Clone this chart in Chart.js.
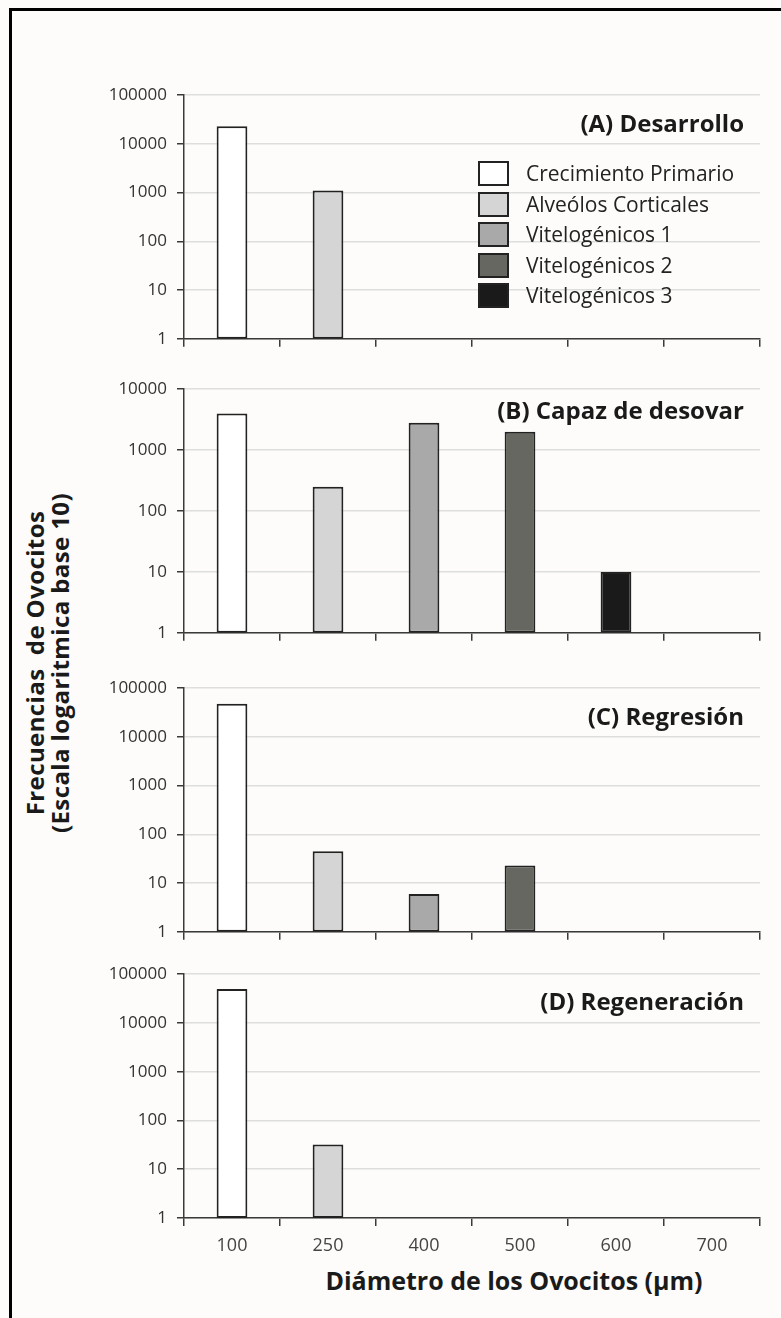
<!DOCTYPE html>
<html>
<head>
<meta charset="utf-8">
<script src="https://cdn.jsdelivr.net/npm/chart.js@4.4.1/dist/chart.umd.min.js"></script>
<style>
html,body{margin:0;padding:0;background:#fdfcfa;}
body{width:781px;height:1318px;position:relative;overflow:hidden;font-family:"Open Sans",sans-serif;}
#marco{position:absolute;left:9px;top:8px;width:900px;height:1400px;border-left:3px solid #000;border-top:3px solid #000;}
canvas{position:absolute;}
.titulo{position:absolute;right:37px;height:30px;line-height:30px;font-weight:700;font-size:24px;color:#1a1a1a;white-space:nowrap;}
.ley{position:absolute;left:478px;height:25px;white-space:nowrap;}
.ley span.caja{position:absolute;left:0;top:0;width:27px;height:21px;border:2px solid #222;}
.ley span.txt{position:absolute;left:48px;top:-3px;font-size:21px;line-height:30px;color:#222;}
#ytitulo{position:absolute;left:-153px;top:638px;width:400px;height:50px;line-height:25px;text-align:center;
  transform:rotate(-90deg);font-weight:700;font-size:24px;letter-spacing:0.4px;color:#1a1a1a;white-space:pre;}
#xtitulo{position:absolute;left:214px;width:600px;top:1263px;text-align:center;font-weight:700;font-size:25px;color:#1a1a1a;}
</style>
</head>
<body>
<div id="marco"></div>
<div id="ytitulo">Frecuencias  de Ovocitos
(Escala logaritmica base 10)</div>
<div id="xtitulo">Diámetro de los Ovocitos (µm)</div>
<script>
// datos
var categorias = ["100", "250", "400", "500", "600", "700"];
var series = ["Crecimiento Primario", "Alveólos Corticales", "Vitelogénicos 1", "Vitelogénicos 2", "Vitelogénicos 3"];
var colores = ["#ffffff", "#d5d5d5", "#a9a9a9", "#676762", "#1a1a1a"];

var desarrollo   = [23000, 1100, null, null, null, null];
var capaz        = [4000, 250, 2800, 2000, 10, null];
var regresion    = [48000, 45, 6, 23, null, null];
var regeneracion = [50000, 32, null, null, null, null];

var ticks5 = [1, 10, 100, 1000, 10000, 100000];
var ticks4 = [1, 10, 100, 1000, 10000];

var paneles = [
  {datos: desarrollo,   titulo: "(A) Desarrollo",       ticks: ticks5, top: 95,  tituloY: 123},
  {datos: capaz,        titulo: "(B) Capaz de desovar", ticks: ticks4, top: 389, tituloY: 410},
  {datos: regresion,    titulo: "(C) Regresión",        ticks: ticks5, top: 688, tituloY: 716},
  {datos: regeneracion, titulo: "(D) Regeneración",     ticks: ticks5, top: 974, tituloY: 1001}
];
var altoPanel = 244;
var eje = "#3a3a3a";

function configurar(p, ultimo, altoX){
  // una serie por tipo de ovocito, cada una en su categoria
  var ds = series.map(function(s, i){
    return {
      label: s,
      data: p.datos.map(function(v, j){ return j == i ? v : null; }),
      backgroundColor: colores[i],
      borderColor: "#222",
      borderWidth: 2,
      borderSkipped: false,
      skipNull: true,
      barPercentage: 0.4,
      categoryPercentage: 0.8
    };
  });
  return {
    type: "bar",
    data: {labels: categorias, datasets: ds},
    options: {
      responsive: false,
      animation: false,
      devicePixelRatio: 1,
      layout: {padding: {top: 14, right: 10, left: 0, bottom: 0}},
      plugins: {legend: {display: false}, tooltip: {enabled: false}},
      scales: {
        x: {
          grid: {drawOnChartArea: false, offset: true, tickLength: 8, color: eje, lineWidth: 1.5},
          border: {color: eje, width: 1.5},
          ticks: {display: ultimo, color: "#444", font: {family: "Open Sans", size: 18}, padding: 9},
          afterFit: function(s){ s.height = altoX; }
        },
        y: {
          type: "logarithmic",
          min: 1,
          max: p.ticks[p.ticks.length - 1],
          afterBuildTicks: function(s){
            s.ticks = p.ticks.map(function(v){ return {value: v}; });
          },
          ticks: {
            color: "#333", font: {family: "Open Sans", size: 17}, padding: 10,
            callback: function(value){ return String(value); }
          },
          grid: {color: "#dedede", lineWidth: 1.5, tickLength: 7, tickColor: eje},
          border: {color: eje, width: 1.5},
          afterFit: function(s){ s.width = 84; }
        }
      }
    }
  };
}

paneles.forEach(function(p, k){
  var ultimo = (k == paneles.length - 1);
  var altoX = ultimo ? 50 : 12;
  var alto = 14 + altoPanel + altoX;

  var c = document.createElement("canvas");
  c.width = 670; c.height = alto;
  c.style.left = "100px";
  c.style.width = "670px";
  c.style.height = alto + "px";
  document.body.appendChild(c);

  // primera pasada para medir el area del grafico, luego se corrige
  var ch = new Chart(c, configurar(p, ultimo, altoX));
  var ca = ch.chartArea;
  var nuevoAlto = alto + (altoPanel - (ca.bottom - ca.top));
  var arriba = p.top - ca.top;
  ch.destroy();
  c.width = 670; c.height = nuevoAlto;
  c.style.height = nuevoAlto + "px";
  c.style.top = arriba + "px";
  new Chart(c, configurar(p, ultimo, altoX));

  var t = document.createElement("div");
  t.className = "titulo";
  t.style.top = (p.tituloY - 15) + "px";
  t.textContent = p.titulo;
  document.body.appendChild(t);
});

// leyenda del panel A
series.forEach(function(s, i){
  var d = document.createElement("div");
  d.className = "ley";
  d.style.top = (161 + i * 30.5) + "px";
  d.innerHTML = '<span class="caja" style="background:' + colores[i] + '"></span><span class="txt"></span>';
  d.querySelector(".txt").textContent = s;
  document.body.appendChild(d);
});
</script>
</body>
</html>
